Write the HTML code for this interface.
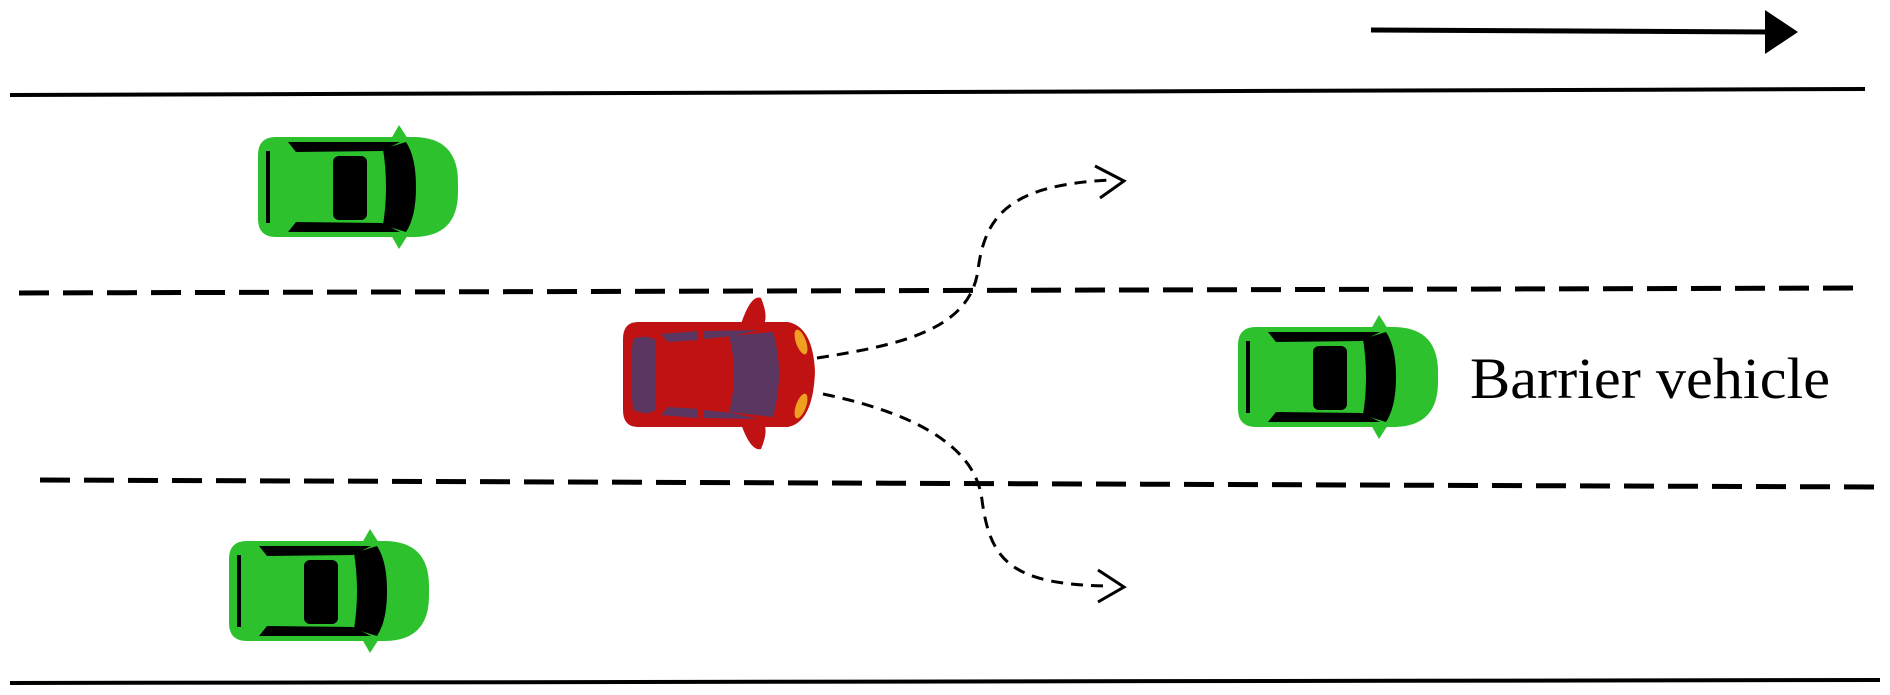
<!DOCTYPE html>
<html><head><style>html,body{margin:0;padding:0;background:#fff;}svg{display:block}</style></head>
<body>
<svg width="1890" height="695" viewBox="0 0 1890 695" xmlns="http://www.w3.org/2000/svg">
<defs>
<g id="gcar">
  <polygon points="133,2 141,-12 150,2" fill="#2ec12e"/>
  <polygon points="133,98 141,112 150,98" fill="#2ec12e"/>
  <path d="M18,0 H155 Q200,0 200,45 V55 Q200,100 155,100 H18 Q0,100 0,82 V18 Q0,0 18,0Z" fill="#2ec12e"/>
  <path d="M125,12 L148,5 Q158,20 158,50 Q158,80 148,95 L125,88 Q131,50 125,12Z" fill="#000"/>
  <rect x="75" y="19" width="34" height="64" rx="6" fill="#000"/>
  <path d="M30,5 L142,5 L124,14 L38,15 Z" fill="#000"/>
  <path d="M30,95 L142,95 L124,86 L38,85 Z" fill="#000"/>
  <rect x="8" y="14" width="4" height="72" fill="#000"/>
</g>
</defs>
<line x1="1371" y1="30" x2="1770" y2="32" stroke="#000" stroke-width="5"/>
<polygon points="1765,10 1798,32 1765,54" fill="#000"/>
<line x1="10" y1="95" x2="1865" y2="89" stroke="#000" stroke-width="4"/>
<line x1="10" y1="683" x2="1880" y2="680" stroke="#000" stroke-width="4"/>
<line x1="19" y1="293" x2="1865" y2="288" stroke="#000" stroke-width="5" stroke-dasharray="30,14"/>
<line x1="40" y1="480" x2="1880" y2="487" stroke="#000" stroke-width="5" stroke-dasharray="30,14"/>
<path d="M817,358 C900,345 970,330 978,270 C985,215 1010,185 1110,180" fill="none" stroke="#000" stroke-width="3" stroke-dasharray="12,8"/>
<polyline points="1095,166 1124,181 1100,198" fill="none" stroke="#000" stroke-width="3"/>
<path d="M823,394 C900,410 975,440 982,500 C990,560 1010,585 1110,586" fill="none" stroke="#000" stroke-width="3" stroke-dasharray="12,8"/>
<polyline points="1098,570 1124,587 1098,602" fill="none" stroke="#000" stroke-width="3"/>
<use href="#gcar" transform="translate(258,137)"/>
<use href="#gcar" transform="translate(229,541)"/>
<use href="#gcar" transform="translate(1238,327)"/>
<g transform="translate(623,322)">
  <path d="M118,2 Q128,-28 138,-24 Q146,-5 140,4Z" fill="#c01212"/>
  <path d="M118,102 Q128,130 138,127 Q146,108 140,100Z" fill="#c01212"/>
  <path d="M15,0 H165 Q190,5 192,50 Q190,100 165,105 H15 Q0,105 0,88 V17 Q0,0 15,0Z" fill="#c01212"/>
  <path d="M10,17 Q25,12 32,18 L32,88 Q25,94 10,88 Q6,52 10,17Z" fill="#5a3660"/>
  <path d="M106,14 L150,10 Q162,50 150,95 L106,90 Q116,52 106,14Z" fill="#5a3660"/>
  <path d="M38,12 L75,9 L75,18 L45,20Z" fill="#5a3660"/>
  <path d="M80,9 L135,8 L110,14 L80,17Z" fill="#5a3660"/>
  <path d="M38,93 L75,96 L75,87 L45,85Z" fill="#5a3660"/>
  <path d="M80,96 L135,97 L110,91 L80,88Z" fill="#5a3660"/>
  <ellipse cx="178" cy="20" rx="5" ry="13" fill="#f0a020" transform="rotate(-20 178 20)"/>
  <ellipse cx="178" cy="84" rx="5" ry="13" fill="#f0a020" transform="rotate(20 178 84)"/>
</g>
<text x="1470" y="398" font-family="Liberation Serif, serif" font-size="58" fill="#000" textLength="360" lengthAdjust="spacingAndGlyphs">Barrier vehicle</text>
</svg>
</body></html>
